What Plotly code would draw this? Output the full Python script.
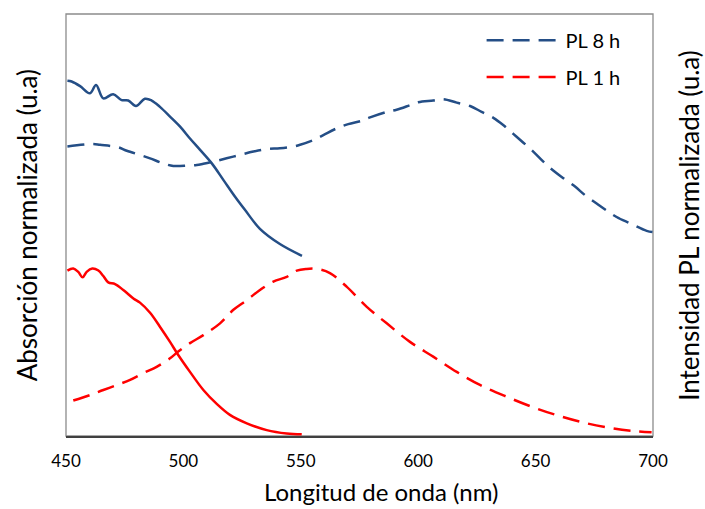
import plotly.graph_objects as go

# --- data (wavelength in nm, normalised intensity) ---

abs_8h_nm = [450.6, 452.4, 456.0, 460.2, 462.8, 465.9, 470.1, 473.7, 476.5, 479.8,
             483.6, 486.5, 490.0, 494.3, 498.6, 502.8, 507.1, 512.1, 517.0, 522.0,
             526.2, 532.6, 541.1, 550.5]
abs_8h = [0.842, 0.840, 0.829, 0.812, 0.832, 0.800, 0.810, 0.796, 0.795, 0.782,
          0.799, 0.795, 0.780, 0.757, 0.733, 0.705, 0.678, 0.646, 0.607, 0.567,
          0.536, 0.491, 0.455, 0.427]

abs_1h_nm = [450.6, 453.1, 455.2, 457.1, 458.8, 461.2, 463.8, 465.9, 468.0, 470.9,
             474.4, 478.7, 481.5, 485.8, 490.0, 494.3, 497.8, 502.8, 508.5, 514.2,
             519.8, 527.0, 535.5, 544.0, 550.4]
abs_1h = [0.392, 0.397, 0.389, 0.376, 0.389, 0.397, 0.392, 0.379, 0.364, 0.360,
          0.346, 0.326, 0.316, 0.292, 0.259, 0.223, 0.192, 0.152, 0.109, 0.076,
          0.050, 0.030, 0.014, 0.006, 0.004]

pl_8h_nm = [450.6, 461.6, 464.5, 472.3, 475.9, 481.5, 485.8, 491.4, 495.7, 502.1,
            505.7, 508.5, 512.7, 518.4, 524.1, 529.8, 535.5, 541.1, 546.8, 549.7,
            555.3, 559.6, 565.3, 570.2, 575.9, 579.5, 586.6, 590.8, 596.5, 600.0,
            606.4, 610.7, 616.4, 622.1, 627.0, 632.0, 636.2, 640.5, 644.8, 649.0,
            653.3, 657.5, 661.8, 666.8, 671.0, 676.0, 680.3, 684.5, 690.2, 697.3, 700.0]
pl_8h = [0.686, 0.692, 0.690, 0.684, 0.676, 0.666, 0.658, 0.646, 0.640, 0.641,
         0.642, 0.645, 0.650, 0.658, 0.666, 0.674, 0.680, 0.682, 0.686, 0.690,
         0.701, 0.713, 0.729, 0.739, 0.747, 0.755, 0.768, 0.773, 0.784, 0.791,
         0.795, 0.798, 0.790, 0.782, 0.768, 0.754, 0.737, 0.716, 0.695, 0.674,
         0.650, 0.629, 0.611, 0.591, 0.571, 0.551, 0.534, 0.519, 0.504, 0.486, 0.483]

pl_1h_nm = [453.1, 460.2, 465.9, 472.3, 477.3, 482.9, 488.6, 494.3, 497.8, 502.8,
            508.5, 515.6, 521.3, 527.0, 532.6, 538.3, 544.0, 548.3, 552.5, 556.8,
            562.4, 569.5, 578.1, 586.6, 596.5, 606.4, 616.4, 626.3, 637.7, 649.0,
            660.4, 671.8, 683.1, 691.6, 699.4]
pl_1h = [0.084, 0.097, 0.109, 0.122, 0.133, 0.149, 0.164, 0.184, 0.200, 0.220,
         0.239, 0.267, 0.299, 0.322, 0.346, 0.366, 0.377, 0.392, 0.396, 0.396,
         0.386, 0.354, 0.306, 0.267, 0.223, 0.188, 0.152, 0.121, 0.093, 0.068,
         0.047, 0.030, 0.018, 0.012, 0.009]

x_ticks = [450, 500, 550, 600, 650, 700]

BLUE = '#244E86'
RED = '#FF0000'
FONT = 'Lato, "Open Sans", sans-serif'
DASH = '17px,9px'

fig = go.Figure()

fig.add_trace(go.Scatter(x=abs_8h_nm, y=abs_8h, mode='lines', showlegend=False,
                         line=dict(color=BLUE, width=2.5, shape='spline')))
fig.add_trace(go.Scatter(x=abs_1h_nm, y=abs_1h, mode='lines', showlegend=False,
                         line=dict(color=RED, width=2.5, shape='spline')))
fig.add_trace(go.Scatter(x=pl_8h_nm, y=pl_8h, mode='lines', name='PL 8 h', legend='legend',
                         line=dict(color=BLUE, width=2.5, dash=DASH, shape='spline')))
fig.add_trace(go.Scatter(x=pl_1h_nm, y=pl_1h, mode='lines', name='PL 1 h', legend='legend2',
                         line=dict(color=RED, width=2.5, dash=DASH, shape='spline')))

# frame round the plot area
fig.add_shape(type='rect', xref='paper', yref='paper', x0=0, x1=1, y0=0, y1=1,
              line=dict(color='#8C8C8C', width=1.3), layer='below')

legend_style = dict(x=0.708, xanchor='left', yanchor='middle', bgcolor='rgba(0,0,0,0)',
                    font=dict(size=20), itemwidth=74)

fig.update_layout(
    width=705, height=509,
    margin=dict(l=66, r=52, t=14, b=73),
    paper_bgcolor='white', plot_bgcolor='white',
    font=dict(family=FONT, size=17, color='black'),
    legend=dict(y=0.938, **legend_style),
    legend2=dict(y=0.851, **legend_style),
    xaxis=dict(range=[450, 700], tickvals=x_ticks, showgrid=False, zeroline=False,
               showline=True, linecolor='#404040', linewidth=2,
               ticks='', ticklabelstandoff=9),
    yaxis=dict(range=[0, 1], showticklabels=False, showgrid=False, zeroline=False,
               showline=False),
    annotations=[
        # x title sits a little right of the plot centre, as in the original
        dict(text='Longitud de onda (nm)', xref='paper', yref='paper',
             x=0.537, y=-0.132, xanchor='center', yanchor='middle', showarrow=False,
             font=dict(size=24)),
        dict(text='Absorción normalizada (u.a)', textangle=-90, xref='paper', yref='paper',
             x=-0.066, y=0.5, xanchor='center', yanchor='middle', showarrow=False,
             font=dict(size=26)),
        dict(text='Intensidad PL normalizada (u.a)', textangle=-90, xref='paper', yref='paper',
             x=1.061, y=0.5, xanchor='center', yanchor='middle', showarrow=False,
             font=dict(size=26)),
    ],
)

fig.write_html("out.html", config={'displayModeBar': False},
               post_script="document.body.style.margin = '0';")
